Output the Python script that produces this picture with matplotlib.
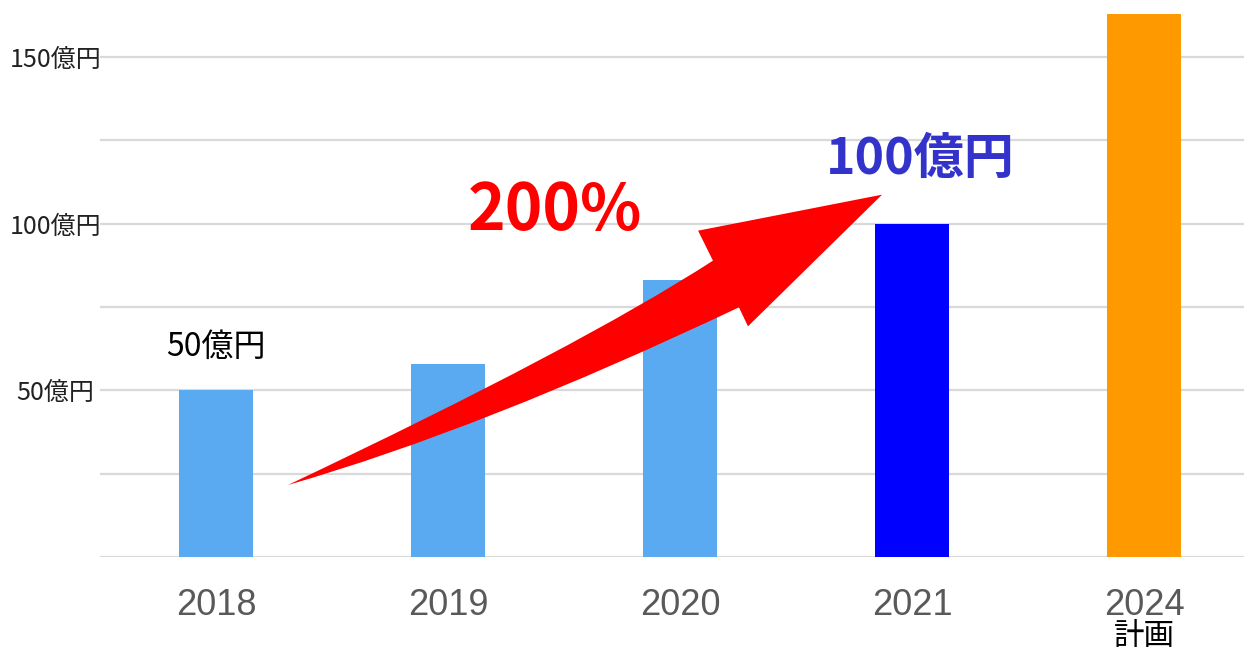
import matplotlib
matplotlib.use('Agg')
import matplotlib.pyplot as plt
from matplotlib.path import Path
from matplotlib.patches import PathPatch

years = ['2018', '2019', '2020', '2021', '2024']
sales = [50, 58, 83, 100, 163]   # 億円
bar_colors = ['#5AAAF2', '#5AAAF2', '#5AAAF2', '#0000FF', '#FF9900']
ytick_vals = [0, 25, 50, 75, 100, 125, 150]
ytick_text = ['', '', '50億円', '', '100億円', '', '150億円']

cjk = ['Noto Sans CJK JP', 'DejaVu Sans']

fig = plt.figure(figsize=(12.44, 6.52), dpi=100)
ax = fig.add_axes([100 / 1244, 95 / 652, 1144 / 1244, 557 / 652])

xs = range(len(years))
ax.bar(xs, sales, width=0.315, color=bar_colors, zorder=2)

ax.set_xlim(-0.5, 4.431)
ax.set_ylim(0, 167.1)

# grid
ax.set_yticks(ytick_vals)
ax.set_yticklabels(ytick_text, fontfamily=cjk, fontsize=18, color='#222222')
ax.yaxis.grid(True, color='#d9d9d9', linewidth=1.6, zorder=0)
ax.set_axisbelow(True)
for lab in ax.get_yticklabels():
    lab.set_horizontalalignment('center')
ax.tick_params(axis='y', length=0, pad=32)

ax.set_xticks(list(xs))
ax.set_xticklabels(years, fontfamily='Liberation Sans', fontsize=26, color='#595959')
ax.tick_params(axis='x', length=0, pad=22)

for s in ax.spines.values():
    s.set_visible(False)

# "計画" under the last year
ax.annotate('計画', xy=(4, 0), xycoords=('data', 'axes fraction'),
            xytext=(0, -57), textcoords='offset points',
            ha='center', va='center', fontsize=22, family=cjk, color='black')

# value labels
ax.annotate('50億円', xy=(0, sales[0]), xytext=(0, 31), textcoords='offset points',
            ha='center', va='center', fontsize=23, family=cjk, color='black')
ax.annotate('100億円', xy=(3, sales[3]), xytext=(6, 46), textcoords='offset points',
            ha='center', va='center', fontsize=36, family=cjk, fontweight='bold',
            color='#3333CC')
ax.text(1.461, 103.8, '200%', ha='center', va='center', fontsize=46,
        family=cjk, fontweight='bold', color='#FF0000', zorder=4)

# curved growth arrow
verts = [(0.31, 21.6), (1.572, 63.2), (2.142, 88.9),
         (2.078, 97.9), (2.871, 108.7), (2.293, 69.2), (2.254, 74.9),
         (1.145, 38.3), (0.31, 21.6), (0.31, 21.6)]
codes = [Path.MOVETO, Path.CURVE3, Path.CURVE3,
         Path.LINETO, Path.LINETO, Path.LINETO, Path.LINETO,
         Path.CURVE3, Path.CURVE3, Path.CLOSEPOLY]
ax.add_patch(PathPatch(Path(verts, codes), facecolor='#FF0000',
                       edgecolor='none', zorder=3))

fig.savefig('out.png', dpi=100)
